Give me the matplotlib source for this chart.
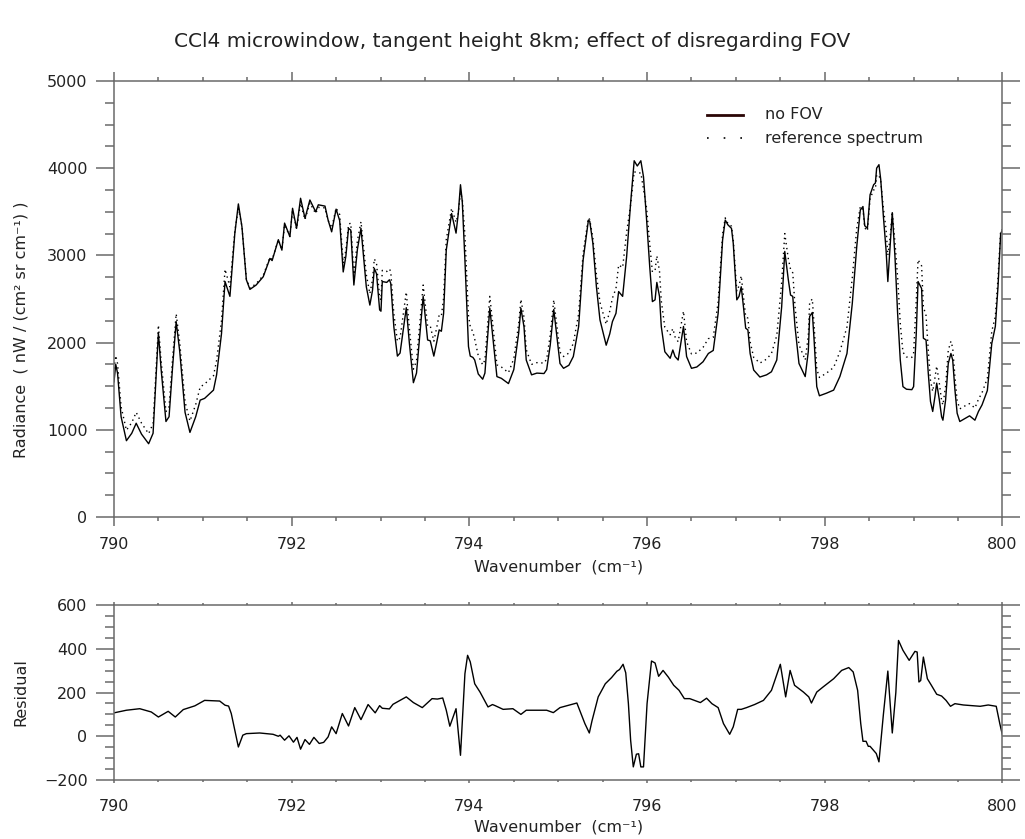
#!/usr/bin/python
# -*- coding: utf-8 -*-

import numpy as np
import matplotlib
matplotlib.use('Agg')
import matplotlib.pyplot as plt

###############################################################################
# Data
###############################################################################
wn_top = [
    790.00, 790.02, 790.04, 790.08, 790.14, 790.20, 790.25, 790.31, 790.39,
    790.44, 790.46, 790.50, 790.53, 790.585, 790.62, 790.66, 790.70, 790.74,
    790.80, 790.855, 790.92, 790.97, 791.02, 791.12, 791.155, 791.21, 791.25,
    791.305, 791.36, 791.40, 791.44, 791.49, 791.53, 791.60, 791.68, 791.755,
    791.78, 791.85, 791.89, 791.92, 791.98, 792.01, 792.055, 792.10, 792.15,
    792.205, 792.27, 792.30, 792.375, 792.41, 792.45, 792.50, 792.54, 792.58,
    792.61, 792.64, 792.665, 792.70, 792.74, 792.78, 792.84, 792.88, 792.91,
    792.93, 792.955, 792.99, 793.005, 793.02, 793.07, 793.10, 793.115, 793.15,
    793.19, 793.22, 793.29, 793.325, 793.37, 793.405, 793.48, 793.53, 793.56,
    793.60, 793.63, 793.66, 793.685, 793.71, 793.74, 793.80, 793.85, 793.875,
    793.90, 793.92, 793.95, 793.99, 794.01, 794.04, 794.06, 794.10, 794.15,
    794.175, 794.23, 794.26, 794.31, 794.36, 794.44, 794.50, 794.555, 794.58,
    794.615, 794.64, 794.70, 794.76, 794.84, 794.87, 794.91, 794.95, 794.98,
    795.02, 795.06, 795.12, 795.17, 795.23, 795.28, 795.34, 795.355, 795.39,
    795.43, 795.47, 795.54, 795.58, 795.61, 795.65, 795.68, 795.725, 795.77,
    795.815, 795.855, 795.89, 795.93, 795.96, 795.995, 796.03, 796.06, 796.09,
    796.11, 796.14, 796.16, 796.20, 796.26, 796.29, 796.315, 796.35, 796.41,
    796.445, 796.50, 796.56, 796.63, 796.69, 796.745, 796.80, 796.85, 796.88,
    796.91, 796.95, 796.97, 797.01, 797.035, 797.06, 797.085, 797.11, 797.135,
    797.16, 797.20, 797.27, 797.345, 797.40, 797.46, 797.515, 797.55, 797.59,
    797.615, 797.64, 797.665, 797.71, 797.78, 797.815, 797.83, 797.86, 797.88,
    797.91, 797.94, 798.02, 798.10, 798.17, 798.25, 798.31, 798.36, 798.40,
    798.43, 798.45, 798.48, 798.51, 798.55, 798.57, 798.584, 798.61, 798.63,
    798.66, 798.69, 798.71, 798.735, 798.76, 798.79, 798.82, 798.85, 798.88,
    798.92, 798.98, 799.00, 799.03, 799.05, 799.09, 799.11, 799.14, 799.165,
    799.19, 799.215, 799.24, 799.26, 799.29, 799.315, 799.33, 799.36, 799.39,
    799.42, 799.44, 799.465, 799.49, 799.52, 799.58, 799.63, 799.69, 799.73,
    799.77, 799.83, 799.88, 799.92, 799.95, 799.98, 800.00
]
rad_nofov = [
    1550, 1750, 1650, 1150, 875, 960, 1075, 950, 840,
    960, 1340, 2110, 1700, 1095, 1150, 1725, 2240, 1900,
    1200, 970, 1150, 1340, 1360, 1455, 1630, 2100, 2700,
    2530, 3250, 3590, 3330, 2720, 2610, 2660, 2755, 2965,
    2940, 3180, 3060, 3370, 3215, 3540, 3310, 3655, 3425,
    3635, 3500, 3580, 3565, 3405, 3270, 3530, 3400, 2810,
    2990, 3310, 3290, 2660, 3070, 3310, 2640, 2430, 2600,
    2850, 2790, 2375, 2360, 2700, 2690, 2720, 2680, 2180,
    1845, 1880, 2400, 1990, 1540, 1650, 2530, 2030, 2020,
    1845, 1990, 2145, 2130, 2335, 3060, 3480, 3255, 3480,
    3810, 3620, 2945, 1955, 1845, 1830, 1800, 1640, 1580,
    1650, 2395, 2100, 1610, 1590, 1530, 1690, 2110, 2395,
    2180, 1800, 1630, 1650, 1645, 1690, 1970, 2380, 2110,
    1760, 1705, 1740, 1840, 2185, 2945, 3405, 3390, 3140,
    2640, 2260, 1970, 2100, 2240, 2335, 2585, 2530, 2985,
    3600, 4085, 4025, 4085, 3900, 3405, 2870, 2470, 2490,
    2690, 2530, 2185, 1895, 1820, 1915, 1840, 1800, 2185,
    1840, 1705, 1720, 1780, 1875, 1910, 2335, 3175, 3405,
    3350, 3310, 3140, 2490, 2530, 2640, 2410, 2165, 2145,
    1875, 1685, 1605, 1630, 1665, 1800, 2410, 3045, 2720,
    2545, 2530, 2185, 1760, 1610, 1900, 2300, 2345, 2030,
    1495, 1390, 1420, 1455, 1610, 1875, 2450, 3100, 3520,
    3560, 3340, 3310, 3695, 3810, 3830, 4000, 4040, 3870,
    3445, 3060, 2700, 3100, 3490, 2990, 2335, 1800, 1495,
    1465, 1460, 1495, 2105, 2700, 2620, 2050, 2030, 1650,
    1325, 1210, 1380, 1535, 1340, 1150, 1110, 1340, 1760,
    1875, 1800, 1460, 1190, 1095, 1130, 1160, 1110, 1210,
    1285, 1450, 1990, 2185, 2640, 3250, 3290
]
rad_ref = [
    1700, 1850, 1760, 1265, 995, 1082, 1200, 1076, 955,
    1071, 1430, 2200, 1800, 1210, 1265, 1820, 2330, 2000,
    1320, 1100, 1290, 1490, 1525, 1620, 1795, 2250, 2840,
    2640, 3280, 3540, 3335, 2730, 2625, 2675, 2770, 2977,
    2950, 3180, 3065, 3350, 3217, 3520, 3305, 3595, 3410,
    3600, 3480, 3550, 3545, 3402, 3313, 3542, 3470, 2910,
    3060, 3357, 3370, 2780, 3170, 3386, 2780, 2560, 2720,
    2960, 2910, 2515, 2490, 2828, 2815, 2845, 2815, 2330,
    2015, 2055, 2580, 2155, 1695, 1790, 2660, 2190, 2190,
    2015, 2160, 2315, 2305, 2510, 3180, 3540, 3380, 3480,
    3720, 3650, 3230, 2310, 2185, 2120, 2040, 1850, 1745,
    1800, 2530, 2245, 1745, 1720, 1655, 1815, 2215, 2495,
    2290, 1920, 1750, 1770, 1765, 1810, 2085, 2490, 2230,
    1890, 1840, 1880, 1990, 2330, 3020, 3430, 3410, 3200,
    2780, 2460, 2210, 2360, 2510, 2620, 2890, 2860, 3265,
    3580, 3960, 3945, 3945, 3760, 3540, 3130, 2810, 2825,
    2995, 2820, 2480, 2175, 2090, 2160, 2065, 2010, 2360,
    2010, 1870, 1880, 1945, 2045, 2060, 2465, 3245, 3430,
    3365, 3335, 3180, 2590, 2650, 2765, 2535, 2295, 2280,
    2010, 1830, 1765, 1810, 1875, 2080, 2690, 3250, 2960,
    2840, 2800, 2420, 1975, 1800, 2080, 2460, 2500, 2200,
    1695, 1600, 1650, 1715, 1895, 2180, 2745, 3310, 3560,
    3530, 3315, 3280, 3650, 3750, 3760, 3920, 3920, 3850,
    3540, 3300, 3000, 3200, 3500, 3150, 2750, 2220, 1890,
    1835, 1830, 1880, 2490, 2950, 2880, 2410, 2310, 1915,
    1565, 1440, 1595, 1730, 1530, 1335, 1285, 1500, 1910,
    2015, 1940, 1610, 1335, 1240, 1275, 1300, 1250, 1350,
    1425, 1590, 2130, 2300, 2740, 3290, 3295
]

wn_res = [
    790.00, 790.14, 790.29, 790.42, 790.50, 790.61, 790.69, 790.78, 790.91,
    791.02, 791.19, 791.25, 791.29, 791.32, 791.40, 791.45, 791.49, 791.64,
    791.79, 791.85, 791.87, 791.92, 791.97, 792.02, 792.06, 792.10, 792.15,
    792.20, 792.25, 792.31, 792.36, 792.41, 792.45, 792.50, 792.57, 792.64,
    792.71, 792.78, 792.86, 792.94, 792.99, 793.02, 793.10, 793.14, 793.29,
    793.37, 793.47, 793.58, 793.64, 793.70, 793.74, 793.78, 793.85, 793.90,
    793.95, 793.98, 794.01, 794.06, 794.12, 794.21, 794.26, 794.29, 794.38,
    794.49, 794.58, 794.64, 794.87, 794.945, 795.02, 795.21, 795.30, 795.35,
    795.38, 795.45, 795.53, 795.60, 795.66, 795.69, 795.73, 795.76, 795.79,
    795.815, 795.845, 795.88, 795.905, 795.93, 795.96, 796.00, 796.05, 796.09,
    796.13, 796.18, 796.24, 796.30, 796.36, 796.42, 796.48, 796.60, 796.67,
    796.73, 796.80, 796.86, 796.93, 796.97, 797.02, 797.06, 797.12, 797.21,
    797.31, 797.40, 797.50, 797.56, 797.61, 797.66, 797.76, 797.82, 797.85,
    797.91, 797.98, 798.10, 798.19, 798.27, 798.32, 798.37, 798.405, 798.43,
    798.465, 798.49, 798.51, 798.58, 798.61, 798.66, 798.71, 798.76, 798.80,
    798.83, 798.88, 798.95, 799.015, 799.04, 799.06, 799.08, 799.11, 799.155,
    799.20, 799.26, 799.315, 799.365, 799.415, 799.465, 799.56, 799.75, 799.84,
    799.93, 799.97, 800.00
]
residual = [
    107, 119, 126, 111, 88, 114, 88, 122, 139,
    164, 161, 142, 138, 104, -49, 5, 12, 15,
    9, 0, 5, -18, 2, -27, -5, -59, -15,
    -37, -5, -33, -28, -3, 43, 12, 104, 47,
    131, 76, 145, 107, 140, 128, 125, 146, 180,
    154, 131, 172, 170, 175, 119, 46, 126, -87,
    286, 370, 340, 240, 202, 134, 145, 140, 123,
    126, 100, 119, 119, 108, 131, 152, 58, 15,
    70, 180, 240, 268, 297, 305, 329, 290, 149,
    -18, -140, -82, -80, -140, -140, 149, 344, 335,
    274, 301, 270, 233, 210, 172, 172, 154, 174,
    149, 131, 58, 9, 43, 123, 123, 131, 145,
    164, 210, 329, 180, 301, 233, 202, 180, 152,
    202, 225, 263, 301, 314, 294, 210, 58, -23,
    -23, -46, -46, -79, -117, 100, 298, 15, 200,
    438, 393, 347, 388, 385, 248, 255, 362, 263,
    233, 192, 184, 164, 137, 149, 143, 137, 143,
    137, 58, 5
]

TITLE = 'CCl4 microwindow, tangent height 8km; effect of disregarding FOV'
(AXC, TXC, FS) = ('#6a6a6a', '#222222', 11.5)

###############################################################################
# Figure
###############################################################################
plt.rcParams['font.family'] = ['DejaVu Sans']
fig = plt.figure(figsize=(10.25, 8.39), dpi=100)
ax1 = fig.add_axes([0.1112, 0.3838, 0.8668, 0.5197])
ax2 = fig.add_axes([0.1112, 0.0703, 0.8668, 0.2086])

ax1.plot(wn_top, rad_nofov, color='black', lw=1.0)
ax1.plot(wn_top, rad_ref, color='black', lw=1.0, linestyle=(0, (1, 2.6)))
ax2.plot(wn_res, residual, color='black', lw=1.0)

ax1.set_xlim(790, 800)
ax1.set_ylim(0, 5000)
ax1.set_yticks(np.arange(0, 5001, 1000))
ax1.set_yticks(np.arange(0, 5001, 250), minor=True)
ax2.set_xlim(790, 800)
ax2.set_ylim(-200, 600)
ax2.set_yticks(np.arange(-200, 601, 200))
ax2.set_yticks(np.arange(-200, 601, 50), minor=True)
for ax in (ax1, ax2):
    ax.set_xticks(np.arange(790, 801, 2))
    ax.set_xticks(np.arange(790, 800.1, 0.5), minor=True)
    for sp in ax.spines.values():
        sp.set_color(AXC)
        sp.set_linewidth(1.1)
    ax.tick_params(
            which='both', direction='out', top=True, right=True,
            labeltop=False, labelright=False, color=AXC, width=1.1,
            labelsize=FS, labelcolor=TXC
        )
    ax.tick_params(axis='y', which='major', length=13, pad=6)
    ax.tick_params(axis='y', which='minor', length=6.5)

ax1.tick_params(axis='x', which='major', length=6.3, pad=8)
ax1.tick_params(axis='x', which='minor', length=3.2)
ax2.tick_params(axis='x', which='major', length=2.5, pad=11)
ax2.tick_params(axis='x', which='minor', length=1.3)

ax1.set_ylabel('Radiance  ( nW / (cm² sr cm⁻¹) )', fontsize=FS, color=TXC)
ax1.yaxis.set_label_coords(-0.096, 0.43)
ax1.set_xlabel('Wavenumber  (cm⁻¹)', fontsize=FS, color=TXC)
ax1.xaxis.set_label_coords(0.5, -0.098)
ax2.set_ylabel('Residual', fontsize=FS, color=TXC)
ax2.yaxis.set_label_coords(-0.096, 0.5)
ax2.set_xlabel('Wavenumber  (cm⁻¹)', fontsize=FS, color=TXC)
ax2.xaxis.set_label_coords(0.5, -0.225)

# legend drawn by hand, IDL style
ax1.plot([0.667, 0.708], [0.922, 0.922], transform=ax1.transAxes,
         color='#2a0505', lw=2.0)
ax1.plot([0.667, 0.708], [0.869, 0.869], transform=ax1.transAxes,
         color='black', lw=1.2, linestyle=(0, (1, 9)))
ax1.text(0.733, 0.922, 'no FOV', transform=ax1.transAxes,
         fontsize=FS, color=TXC, va='center')
ax1.text(0.733, 0.869, 'reference spectrum', transform=ax1.transAxes,
         fontsize=FS, color=TXC, va='center')

fig.text(0.5, 0.95, TITLE, ha='center', va='center', fontsize=14.5,
         color=TXC)

fig.savefig('out.png', dpi=100)
